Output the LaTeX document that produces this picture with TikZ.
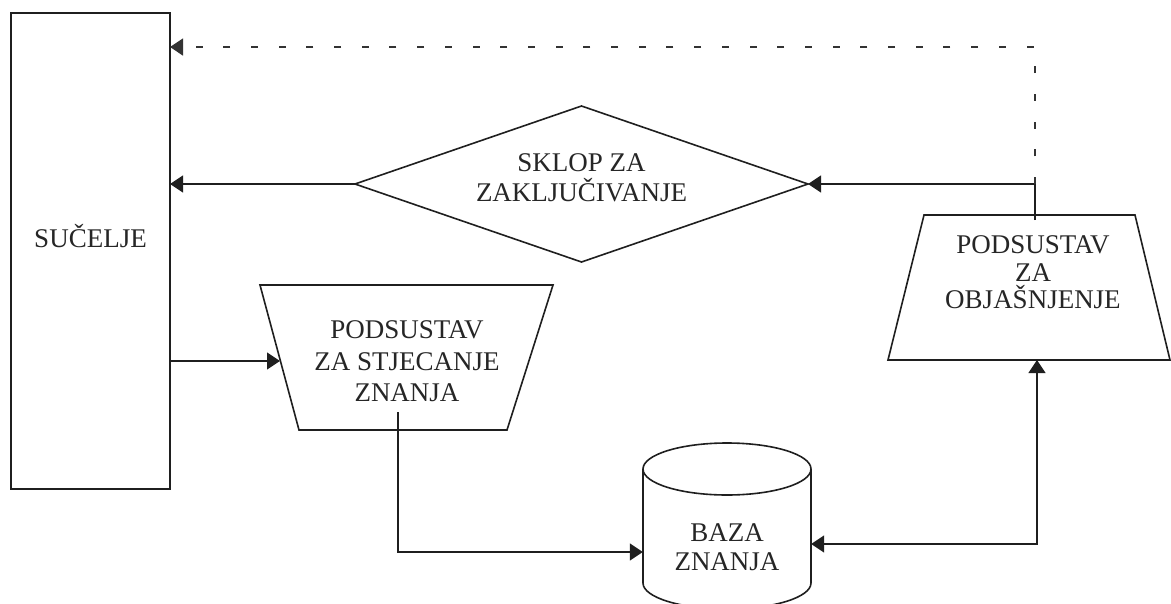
\documentclass[tikz,border=0pt]{standalone}
\usepackage{fontspec}
\setmainfont{Liberation Serif}
\usetikzlibrary{shapes.geometric, arrows.meta}
\begin{document}
\begin{tikzpicture}[x=1pt, y=-1pt,
  ink/.style={draw=black!88, line width=1.6pt, inner sep=0pt, outer sep=0pt},
  txt/.style={font=\fontsize{27}{30}\selectfont, align=center, text=black!85, inner sep=0pt},
  wire/.style={draw=black!88, line width=1.3pt},
  tip/.style={-{Triangle[length=13pt,width=17pt]}},
  bothtips/.style={{Triangle[length=13pt,width=17pt]}-{Triangle[length=13pt,width=17pt]}},
  feedback/.style={draw=black!80, line width=1.4pt, dash pattern=on 7pt off 20.7pt}]

\fill[white] (0,0) rectangle (1171,603);
\useasboundingbox (0,0) rectangle (1171,603);
\clip (0,0) rectangle (1171,603);

% user interface block
\node[ink, rectangle, minimum width=159, minimum height=476,
      label={[txt, yshift=15]center:SUČELJE}] (sucelje) at (90.5,251) {};

% inference engine
\node[ink, diamond, aspect=2.9, minimum width=453, minimum height=156,
      label={[txt, yshift=6.5]center:{SKLOP ZA\\ZAKLJUČIVANJE}}] (sklop) at (581.5,184) {};

% knowledge acquisition subsystem (inverted trapezoid)
\draw[ink, line join=miter] (260,285) -- (553,285) -- (507,430) -- (299,430) -- cycle;
\node[txt, font=\fontsize{27}{31.5}\selectfont] (stjec) at (407,361.5) {PODSUSTAV\\ZA STJECANJE\\ZNANJA};
\coordinate (stjec-in) at (280,361);
\coordinate (stjec-out) at (398,412);

% explanation subsystem (trapezoid)
\draw[ink, line join=miter] (924,215) -- (1135,215) -- (1170,360) -- (888,360) -- cycle;
\node[txt, font=\fontsize{27}{27.5}\selectfont] (objas) at (1033,272.5) {PODSUSTAV\\ZA\\OBJAŠNJENJE};
\coordinate (objas-top) at (1035,220);
\coordinate (objas-bot) at (1037,360);

% knowledge base (cylinder)
\draw[ink] (727,469) ellipse [x radius=84, y radius=26];
\draw[ink] (643,469) -- (643,583) arc[start angle=180, end angle=0, x radius=84, y radius=26] -- (811,469);
\node[txt, minimum width=168, font=\fontsize{27}{29}\selectfont] (baza) at (727,547.5) {BAZA\\ZNANJA};

% connectors
\coordinate (junc) at (objas-top |- sklop.east);

\draw[wire] (objas-top) -- (junc);
\draw[wire, tip] (junc) -- (sklop.east);
\draw[feedback, tip] (junc) |- ([yshift=204]sucelje.east);
\draw[wire, tip] (sklop.west) -- (sklop.west -| sucelje.east);
\draw[wire, tip] (sucelje.east |- stjec-in) -- (stjec-in);
\draw[wire, tip] (stjec-out) |- ([yshift=-4.5]baza.west);
\draw[wire, bothtips] ([yshift=3.5]baza.east) -| (objas-bot);
\end{tikzpicture}
\end{document}
